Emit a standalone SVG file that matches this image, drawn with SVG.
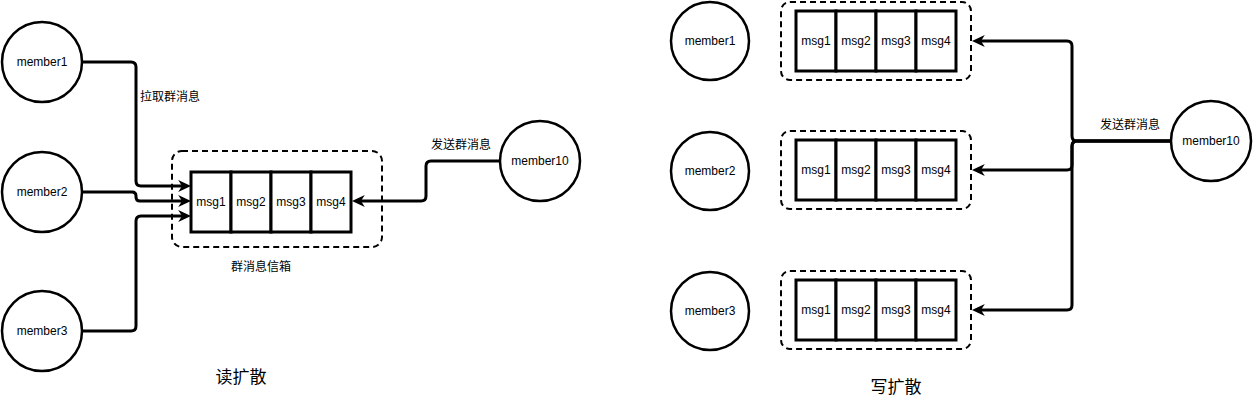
<svg xmlns="http://www.w3.org/2000/svg" width="1253" height="402" viewBox="0 0 1253 402">
<style>
.circ{fill:#fff;stroke:#000;stroke-width:2.5}
.cell{fill:#fff;stroke:#000;stroke-width:3}
.dash{fill:none;stroke:#000;stroke-width:2;stroke-dasharray:6 4}
.edge{fill:none;stroke:#000;stroke-width:3}
text{font-family:"Liberation Sans","Noto Sans CJK SC",sans-serif;font-size:12px;fill:#000;text-anchor:middle;dominant-baseline:central}
.title{font-size:17px}
</style>
<defs>
<marker id="arr" markerUnits="userSpaceOnUse" markerWidth="13" markerHeight="12" viewBox="0 0 12 11" refX="3.5" refY="5.5" orient="auto">
<path d="M0,0 L12,5.5 L0,11 L3.5,5.5 z" fill="#000"/>
</marker>
</defs>
<rect width="1253" height="402" fill="#fff"/>

<g id="edges">
<path class="edge" marker-end="url(#arr)" d="M82,62 H131 Q136,62 136,67 V181 Q136,186 141,186 H182"/>
<path class="edge" marker-end="url(#arr)" d="M82,192 H132 Q136,192 136,196 V197 Q136,201 140,201 H182"/>
<path class="edge" marker-end="url(#arr)" d="M82,331 H131 Q136,331 136,326 V221 Q136,216 141,216 H182"/>
<path class="edge" marker-end="url(#arr)" d="M500,161 H431 Q426,161 426,166 V196 Q426,201 421,201 H361"/>
<path class="edge" marker-end="url(#arr)" d="M1171,141 H1077 Q1072,141 1072,136 V46 Q1072,41 1067,41 H981"/>
<path class="edge" marker-end="url(#arr)" d="M1171,141 H1077 Q1072,141 1072,146 V165 Q1072,170 1067,170 H981"/>
<path class="edge" marker-end="url(#arr)" d="M1171,141 H1077 Q1072,141 1072,146 V305 Q1072,310 1067,310 H981"/>
<text x="170" y="97">拉取群消息</text>
<text x="461" y="145">发送群消息</text>
<text x="1130" y="125">发送群消息</text>
</g>

<g id="L-member1"><circle class="circ" cx="42" cy="62" r="40"/><text x="42" y="62">member1</text></g>
<g id="L-member2"><circle class="circ" cx="42" cy="192" r="40"/><text x="42" y="192">member2</text></g>
<g id="L-member3"><circle class="circ" cx="42" cy="331" r="40"/><text x="42" y="331">member3</text></g>
<g id="L-member10"><circle class="circ" cx="540" cy="161" r="40"/><text x="540" y="161">member10</text></g>

<g id="L-inbox">
<rect class="dash" x="172" y="151" width="210" height="96" rx="10"/>
<rect class="cell" x="191" y="172" width="40" height="60"/><text x="211" y="202">msg1</text>
<rect class="cell" x="231" y="172" width="40" height="60"/><text x="251" y="202">msg2</text>
<rect class="cell" x="271" y="172" width="40" height="60"/><text x="291" y="202">msg3</text>
<rect class="cell" x="311" y="172" width="40" height="60"/><text x="331" y="202">msg4</text>
<text x="261" y="267">群消息信箱</text>
</g>

<g id="L-title"><text class="title" x="241" y="377">读扩散</text></g>

<g id="R-member1"><circle class="circ" cx="710" cy="41" r="39"/><text x="710" y="41">member1</text></g>
<g id="R-member2"><circle class="circ" cx="710" cy="171" r="39"/><text x="710" y="171">member2</text></g>
<g id="R-member3"><circle class="circ" cx="710" cy="311" r="39"/><text x="710" y="311">member3</text></g>
<g id="R-member10"><circle class="circ" cx="1211" cy="141" r="40"/><text x="1211" y="141">member10</text></g>

<g id="R-inbox1">
<rect class="dash" x="781" y="2" width="190" height="78" rx="9"/>
<rect class="cell" x="796" y="11" width="40" height="60"/><text x="816" y="41">msg1</text>
<rect class="cell" x="836" y="11" width="40" height="60"/><text x="856" y="41">msg2</text>
<rect class="cell" x="876" y="11" width="40" height="60"/><text x="896" y="41">msg3</text>
<rect class="cell" x="916" y="11" width="40" height="60"/><text x="936" y="41">msg4</text>
</g>
<g id="R-inbox2">
<rect class="dash" x="781" y="131" width="190" height="78" rx="9"/>
<rect class="cell" x="796" y="140" width="40" height="60"/><text x="816" y="170">msg1</text>
<rect class="cell" x="836" y="140" width="40" height="60"/><text x="856" y="170">msg2</text>
<rect class="cell" x="876" y="140" width="40" height="60"/><text x="896" y="170">msg3</text>
<rect class="cell" x="916" y="140" width="40" height="60"/><text x="936" y="170">msg4</text>
</g>
<g id="R-inbox3">
<rect class="dash" x="781" y="271" width="190" height="78" rx="9"/>
<rect class="cell" x="796" y="280" width="40" height="60"/><text x="816" y="310">msg1</text>
<rect class="cell" x="836" y="280" width="40" height="60"/><text x="856" y="310">msg2</text>
<rect class="cell" x="876" y="280" width="40" height="60"/><text x="896" y="310">msg3</text>
<rect class="cell" x="916" y="280" width="40" height="60"/><text x="936" y="310">msg4</text>
</g>

<g id="R-title"><text class="title" x="896" y="387">写扩散</text></g>
</svg>
